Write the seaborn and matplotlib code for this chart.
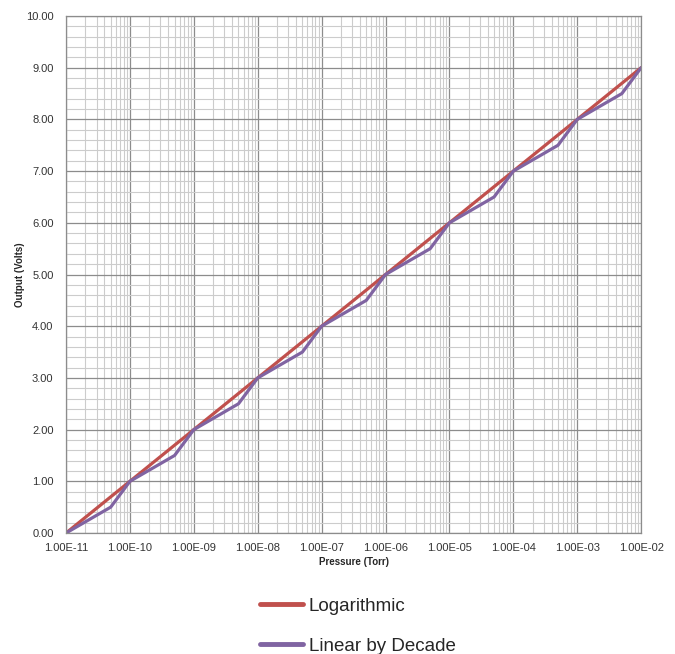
import matplotlib
matplotlib.use("Agg")
import matplotlib.pyplot as plt
import numpy as np
import pandas as pd
import seaborn as sns
from matplotlib.lines import Line2D
from matplotlib.ticker import FixedLocator, LogLocator, MultipleLocator, NullFormatter

# data
log_pressure = [1e-11, 1e-2]
log_volts = [0.0, 9.0]

lin_pressure = [1e-11, 5e-11, 1e-10, 5e-10, 1e-9, 5e-9, 1e-8, 5e-8, 1e-7, 5e-7,
                1e-6, 5e-6, 1e-5, 5e-5, 1e-4, 5e-4, 1e-3, 5e-3, 1e-2]
lin_volts = [0.0, 0.5, 1.0, 1.5, 2.0, 2.5, 3.0, 3.5, 4.0, 4.5,
             5.0, 5.5, 6.0, 6.5, 7.0, 7.5, 8.0, 8.5, 9.0]

x_ticks = [1e-11, 1e-10, 1e-9, 1e-8, 1e-7, 1e-6, 1e-5, 1e-4, 1e-3, 1e-2]
x_labels = ["1.00E-11", "1.00E-10", "1.00E-09", "1.00E-08", "1.00E-07",
            "1.00E-06", "1.00E-05", "1.00E-04", "1.00E-03", "1.00E-02"]

df = pd.concat([
    pd.DataFrame({"pressure": log_pressure, "volts": log_volts, "series": "Logarithmic"}),
    pd.DataFrame({"pressure": lin_pressure, "volts": lin_volts, "series": "Linear by Decade"}),
])

sns.set_style("white")
plt.rcParams["font.family"] = ["Liberation Sans", "DejaVu Sans"]

fig = plt.figure(figsize=(6.75, 6.54), dpi=100)
ax = fig.add_axes([0.0978, 0.185, 0.852, 0.7905])

sns.lineplot(data=df, x="pressure", y="volts", hue="series",
             palette={"Logarithmic": "#C0504D", "Linear by Decade": "#8064A2"},
             linewidth=2.3, sort=False, ax=ax, legend=False)

ax.set_xscale("log")
ax.set_xlim(1e-11, 1e-2)
ax.set_ylim(0, 10)
ax.xaxis.set_major_locator(FixedLocator(x_ticks))
ax.set_xticklabels(x_labels)
ax.xaxis.set_minor_locator(LogLocator(base=10, subs=np.arange(2, 10), numticks=50))
ax.xaxis.set_minor_formatter(NullFormatter())
ax.yaxis.set_major_locator(MultipleLocator(1))
ax.yaxis.set_minor_locator(MultipleLocator(0.2))
ax.yaxis.set_major_formatter(matplotlib.ticker.FormatStrFormatter("%.2f"))

ax.grid(which="major", color="#8c8c8c", linewidth=0.9)
ax.grid(which="minor", color="#cccccc", linewidth=0.8)
ax.set_axisbelow(True)
for s in ax.spines.values():
    s.set_color("#8c8c8c")
    s.set_linewidth(0.9)

ax.tick_params(axis="both", which="major", labelsize=8, colors="#333333",
               length=4, direction="out", pad=3)
ax.tick_params(axis="both", which="minor", length=0)
ax.tick_params(axis="y", length=0, pad=9)
ax.set_xlabel("Pressure (Torr)", fontsize=7, fontweight="bold", labelpad=3)
ax.set_ylabel("Output (Volts)", fontsize=7, fontweight="bold", labelpad=0.5)

handles = [Line2D([], [], color="#C0504D", linewidth=3.5),
           Line2D([], [], color="#8064A2", linewidth=3.5)]
fig.legend(handles, ["Logarithmic", "Linear by Decade"], loc="upper left",
           bbox_to_anchor=(0.385, 0.086), frameon=False, fontsize=13.5,
           handlelength=2.3, handletextpad=0.3, labelspacing=1.2,
           borderaxespad=0, borderpad=0)

fig.savefig("out.png", dpi=100)
plt.close(fig)
